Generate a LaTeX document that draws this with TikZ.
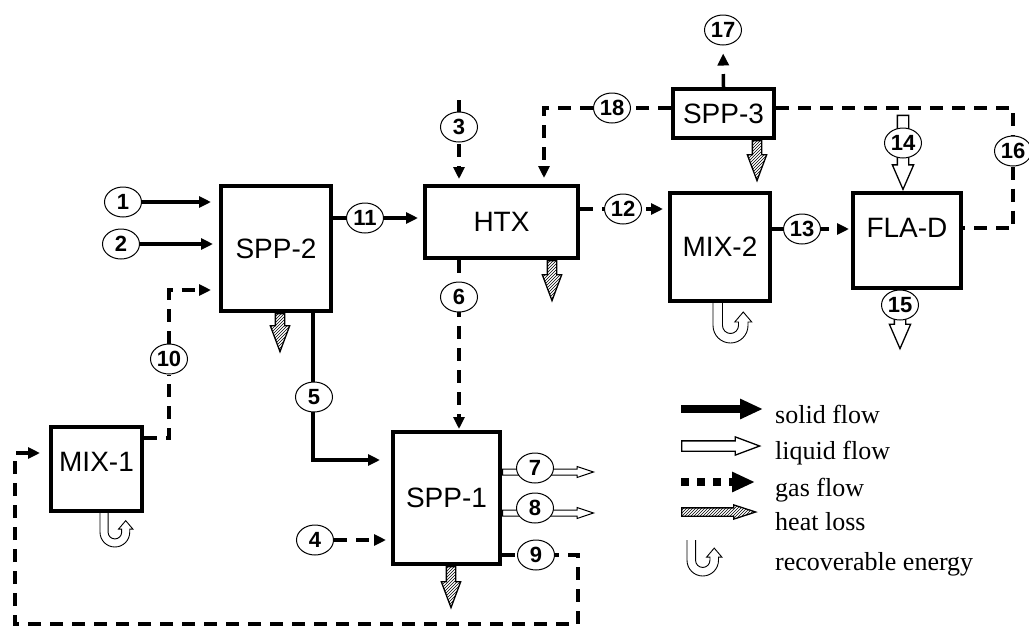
\documentclass[tikz,border=0pt]{standalone}
\usepackage{fontspec}
\setmainfont{Liberation Serif}
\setsansfont{Liberation Sans}
\usetikzlibrary{arrows.meta,shapes.geometric,shapes.arrows,patterns,backgrounds}

% recoverable energy symbol: top left corner, scale
\newcommand{\recov}[2]{%
  \filldraw[fill=white, line width=0.9pt, shift={#1}, scale=#2]
    (0,0) -- (0,22.5) arc[start angle=180, end angle=0, radius=17.5]
    -- (35,19) -- (38.75,19) -- (30.25,9) -- (21.75,19) -- (25.5,19)
    -- (25.5,22.5) arc[start angle=0, end angle=180, radius=8] -- (9.5,0);}

\tikzset{
  unit/.style={draw, line width=4pt, fill=white, inner sep=0pt,
    font=\sffamily\fontsize{28}{30}\selectfont},
  num/.style={ellipse, draw, line width=1pt, fill=white, inner sep=0pt,
    minimum width=37pt, minimum height=30pt,
    font=\sffamily\bfseries\fontsize{22}{22}\selectfont},
  solidflow/.style={line width=3.5pt, -{Triangle[length=12pt,width=11pt]}, shorten >=5pt},
  gas/.style={line width=3.5pt, dash pattern=on 13pt off 9pt,
    -{Triangle[length=12pt,width=11pt]}, shorten >=5pt},
  gasline/.style={line width=3.5pt, dash pattern=on 13pt off 9pt},
  liquid/.style={single arrow, draw, fill=white, line width=1.3pt, inner sep=5pt,
    single arrow head extend=5pt, single arrow tip angle=47, minimum height=#1},
  liquid/.default=60pt,
  heat/.style={single arrow, draw, line width=1.3pt, pattern=north east lines,
    inner sep=4pt, single arrow head extend=5pt, single arrow tip angle=41,
    minimum height=#1},
  heat/.default=40pt,
  legtext/.style={anchor=base west, inner sep=0pt, font=\fontsize{26}{28}\selectfont},
}

\begin{document}
\begin{tikzpicture}[x=1pt, y=-1pt]
    \useasboundingbox (0,0) rectangle (1029,625);

    % Units
    \node[unit, minimum width=110pt, minimum height=125pt] (spp2) at (276,248.5) {SPP-2};
    \node[unit, minimum width=153pt, minimum height=72pt] (htx) at (501.5,222) {HTX};
    \node[unit, minimum width=101pt, minimum height=49pt] (spp3) at (723.5,113.5) {SPP-3};
    \node[unit, minimum width=100pt, minimum height=108pt] (mix2) at (720,247) {MIX-2};
    \node[unit, minimum width=108pt, minimum height=95pt, text depth=26pt] (flad) at (907,240.5) {FLA-D};
    \node[unit, minimum width=91pt, minimum height=84pt, text depth=14pt] (mix1) at (96.5,469) {MIX-1};
    \node[unit, minimum width=107pt, minimum height=132pt] (spp1) at (446.5,498) {SPP-1};

    % Heat losses
    \node[heat=38pt, rotate=-90, anchor=tail] (h2) at ([xshift=4pt]spp2.south) {};
    \node[heat, rotate=-90, anchor=tail] (hx) at ([xshift=50.5pt]htx.south) {};
    \node[heat, rotate=-90, anchor=tail] (h3) at ([xshift=33.5pt]spp3.south) {};
    \node[heat=41pt, rotate=-90, anchor=tail] (h1) at ([xshift=4.5pt]spp1.south) {};

    % Liquid streams
    \node[liquid=74pt, rotate=-90, anchor=tip] (a14) at ([xshift=-4pt]flad.north) {};
    \node[liquid=58pt, rotate=-90, anchor=tail] (a15) at ([xshift=-7pt]flad.south) {};
    \node[liquid=91pt, inner sep=2.5pt, single arrow head extend=2.5pt, single arrow tip angle=37,
      line width=1pt, anchor=tail] (a7) at ([yshift=26pt]spp1.east) {};
    \node[liquid=91pt, inner sep=2.5pt, single arrow head extend=2.5pt, single arrow tip angle=37,
      line width=1pt, anchor=tail] (a8) at ([yshift=-15pt]spp1.east) {};

    % Recoverable energy
    \recov{([xshift=-7pt]mix2.south)}{1}
    \recov{([xshift=3.5pt]mix1.south)}{0.85}

    % Stream numbers
    \node[num] (c1) at (123,202) {1};
    \node[num] (c2) at (121,244) {2};
    \node[num] (c3) at (459,127) {3};
    \node[num] (c4) at (315,540) {4};
    \node[num] (c5) at (314,397) {5};
    \node[num] (c6) at (459,297) {6};
    \node[num] (c7) at (535,468) {7};
    \node[num] (c8) at (535,508) {8};
    \node[num] (c9) at (536,555) {9};
    \node[num] (c10) at (169,359) {10};
    \node[num] (c11) at (365,218) {11};
    \node[num] (c12) at (623,209) {12};
    \node[num] (c13) at (802,229) {13};
    \node[num] (c14) at (903,143) {14};
    \node[num] (c15) at (900,305) {15};
    \node[num] (c16) at (1013,151) {16};
    \node[num] (c17) at (723,30) {17};
    \node[num] (c18) at (612,108) {18};

    \coordinate (s3) at (459,100);
    \coordinate (r1) at (578,624);
    \coordinate (r2) at (15,624);

    % Streams
    \begin{scope}[on background layer]
        \draw[solidflow, shorten >=8pt] (c1) -- (spp2.west |- c1);
        \draw[solidflow, shorten >=6pt] (c2) -- (spp2.west |- c2);
        \draw[gas] (s3) -- (htx.north -| s3);
        \draw[gas] (c4) -- (spp1.west |- c4);
        \draw[solidflow, shorten >=11pt] ([xshift=37pt]spp2.south) |- ([yshift=38pt]spp1.west);
        \draw[gas, shorten >=1pt] (htx.south -| c6) -- (spp1.north -| c6);
        \draw[gas, shorten >=9pt] (spp1.east |- c9) -| (r1) -- (r2) |- ([yshift=16pt]mix1.west);
        \draw[gas, shorten >=8pt] ([yshift=31pt]mix1.east) -| (c10) |- ([yshift=-41.5pt]spp2.west);
        \draw[solidflow] (spp2.east |- c11) -- (htx.west |- c11);
        \draw[gas] (htx.east |- c12) -- (mix2.west |- c12);
        \draw[gas, shorten >=2pt] (mix2.east |- c13) -- (flad.west |- c13);
        \draw[gasline] (spp3.east |- c18) -| (c16) |- ([yshift=12.5pt]flad.east);
        \draw[gas, shorten >=8pt] (spp3.north) -- (c17);
        \draw[gas, shorten >=6pt] (spp3.west |- c18) -- (c18) -| ([xshift=42.5pt]htx.north);
    \end{scope}

    % Legend
    \node[legtext] (t1) at (775,423) {solid flow};
    \node[legtext] (t2) at (775,459) {liquid flow};
    \node[legtext] (t3) at (775,496) {gas flow};
    \node[legtext] (t4) at (775,530) {heat loss};
    \node[legtext] (t5) at (775,570) {recoverable energy};
    \draw[line width=8pt, -{Triangle[length=23pt,width=19pt]}]
        ([xshift=-94pt,yshift=14pt]t1.base west) -- ([xshift=-12pt,yshift=14pt]t1.base west);
    \node[liquid=78pt, inner sep=4.5pt, single arrow head extend=4pt, single arrow tip angle=41,
      anchor=tail] (l2) at ([xshift=-94pt,yshift=13pt]t2.base west) {};
    \draw[line width=8pt, dash pattern=on 8pt off 8pt, -{Triangle[length=23pt,width=19pt]}]
        ([xshift=-94pt,yshift=14pt]t3.base west) -- ([xshift=-20pt,yshift=14pt]t3.base west);
    \node[heat=74pt, inner sep=3.5pt, single arrow head extend=3pt, single arrow tip angle=36,
      anchor=tail] (l4) at ([xshift=-94pt,yshift=18pt]t4.base west) {};
    \recov{([xshift=-88pt,yshift=30pt]t5.base west)}{0.9}
\end{tikzpicture}
\end{document}
